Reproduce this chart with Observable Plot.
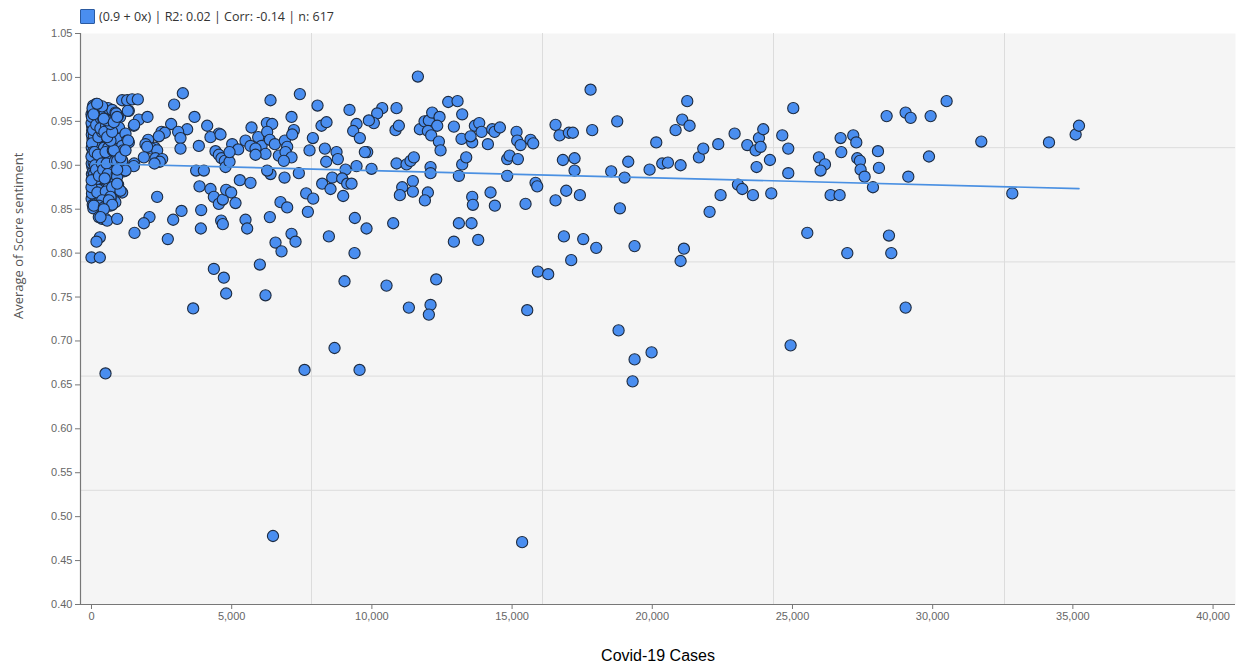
<!DOCTYPE html>
<html><head><meta charset="utf-8">
<script src="https://cdn.jsdelivr.net/npm/d3@7"></script>
<script src="https://cdn.jsdelivr.net/npm/@observablehq/plot@0.6"></script>
<style>
body{margin:0;background:#fff;}
#wrap{position:relative;width:1236px;height:670px;}
#legend{position:absolute;left:80px;top:8px;font:12.5px "Open Sans";color:#333;display:flex;align-items:center;z-index:2;}
#legend .sw{width:15px;height:15px;background:#4a8ef0;border:1px solid #2b5aa0;margin-right:4px;box-sizing:border-box;border-radius:1px;}
</style></head>
<body><div id="wrap"><div id="legend"><span class="sw"></span><span id="legtext"></span></div></div>
<script>
const legendLabel = "(0.9 + 0x) | R2: 0.02 | Corr: -0.14 | n: 617";
const xLabel = "Covid-19 Cases";
const yLabel = "Average of Score sentiment";
const xTicks = [0,5000,10000,15000,20000,25000,30000,35000,40000];
const yTicks = [0.40,0.45,0.50,0.55,0.60,0.65,0.70,0.75,0.80,0.85,0.90,0.95,1.00,1.05];
const xDomain = [-392, 40800];
const yDomain = [0.40, 1.05];

// dense cluster near zero cases
const clusterPoints = [
[0,0.958],[20,0.945],[35,0.93],[10,0.92],[50,0.905],[15,0.89],[40,0.875],[5,0.862],[60,0.968],[80,0.96],[25,0.94],[70,0.925],[90,0.912],[30,0.898],[55,0.885],[75,0.87],[45,0.855],[100,0.952],[120,0.966],[110,0.938],[130,0.928],[95,0.918],[140,0.907],[105,0.895],[150,0.882],[125,0.868],[160,0.858],[170,0.97],[180,0.955],[190,0.943],[165,0.933],[200,0.922],[175,0.91],[210,0.9],[185,0.888],[220,0.876],[195,0.865],[230,0.852],[240,0.962],[250,0.949],[235,0.936],[260,0.926],[245,0.915],[270,0.903],[255,0.892],[280,0.879],[265,0.866],[290,0.857],[300,0.958],[310,0.944],[295,0.931],[320,0.92],[305,0.909],[330,0.897],[315,0.884],[340,0.872],[325,0.861],[350,0.953],[360,0.94],[345,0.929],[370,0.917],[355,0.906],[380,0.894],[365,0.882],[390,0.869],[375,0.858],[400,0.947],[410,0.935],[395,0.924],[420,0.912],[405,0.9],[430,0.888],[415,0.877],[440,0.865],[12,0.935],[28,0.912],[42,0.948],[62,0.893],[85,0.934],[115,0.877],[135,0.944],[155,0.921],[205,0.937],[225,0.893],[275,0.944],[285,0.915],[335,0.938],[385,0.926],[8,0.902],[18,0.868],[32,0.884],[48,0.962],[66,0.851],[88,0.946],[102,0.875],[145,0.893],[188,0.925],[215,0.958],[262,0.905],[312,0.872],[358,0.915],[398,0.885],[3,0.948],[22,0.925],[52,0.915],[78,0.903],[118,0.957],[148,0.941],[178,0.884],[238,0.872],[288,0.932],[348,0.895],[0,0.875],[0,0.91],[15,0.955],[38,0.965],[58,0.94],[92,0.89],[128,0.9],[168,0.946],[208,0.869],[248,0.932],[298,0.898],[338,0.953],[378,0.938],[425,0.952],[445,0.92],[6,0.883],[72,0.958],[112,0.915],[162,0.895],[228,0.912],[268,0.888],[318,0.942],[368,0.902],[418,0.895],
[480,0.96],[520,0.945],[560,0.932],[600,0.92],[650,0.908],[700,0.895],[750,0.88],[800,0.868],[850,0.858],[500,0.915],[540,0.902],[580,0.89],[620,0.875],[680,0.862],[720,0.95],[780,0.938],[830,0.925],[880,0.912],[920,0.9],[470,0.885],[510,0.87],[560,0.855],[620,0.942],[690,0.928],[760,0.917],[840,0.905],[900,0.89],[950,0.878],[1000,0.93],[1050,0.918],[1100,0.905],[1150,0.893],[980,0.943],[1020,0.955],[460,0.938],[590,0.965],[660,0.952],[740,0.963],
[380,0.967],[202,0.970],[856,0.960],[1331,0.962],[939,0.956],[1510,0.945],[1213,0.936],[1272,0.928],[1331,0.926],[1094,0.922],[1130,0.917],[927,0.911],[796,0.917],[677,0.928],[559,0.932],[737,0.938],[677,0.947],[559,0.951],[440,0.953],[796,0.949],[975,0.894],[915,0.905],[1094,0.905],[1011,0.871],[856,0.881],[915,0.887],[737,0.875],[677,0.864],[559,0.860],[380,0.860],[261,0.854],[83,0.854],[440,0.852],[677,0.854],[261,0.841],[380,0.839],[499,0.839],[559,0.837],[915,0.839],[297,0.818],[178,0.813],[0,0.795],[297,0.795],[500,0.663],
[1308,0.928],[1522,0.902],[1510,0.899],[1213,0.894],[915,0.895],[1034,0.909],[1213,0.917],[1094,0.869],[1034,0.871],[915,0.879],[618,0.860],[737,0.855],[440,0.850],[321,0.841],
[1094,0.974],[1272,0.974],[1450,0.975],[1652,0.975],[1296,0.962],[880,0.959],[915,0.955],[1688,0.952],[1522,0.946],[1997,0.955]
];

// 2,000 – 8,500 cases
const leftPoints = [
[2841,0.947],[2948,0.969],[3258,0.982],[3674,0.955],[4126,0.945],[4542,0.936],[4244,0.932],[4601,0.935],[3412,0.941],[3091,0.938],[3174,0.931],[2497,0.938],[2616,0.937],[2402,0.933],[2021,0.929],[1926,0.924],[2259,0.920],[2140,0.919],[2342,0.917],[1985,0.921],[1867,0.909],[2283,0.908],[2521,0.907],[2437,0.904],[2247,0.902],[3174,0.919],[3828,0.922],[4423,0.916],[4542,0.912],[4637,0.908],[4756,0.905],[4780,0.898],[4923,0.904],[5018,0.924],[5232,0.918],[4923,0.915],[5493,0.928],[5707,0.943],[5671,0.922],[5945,0.932],[6064,0.922],[6254,0.948],[6444,0.947],[6385,0.974],[6266,0.938],[6361,0.929],[6540,0.924],[6206,0.913],[5850,0.919],[5850,0.912],[6682,0.911],[6896,0.928],[7134,0.955],[7217,0.940],[7158,0.935],[6979,0.921],[6920,0.915],[7134,0.909],[6860,0.905],[7395,0.891],[6884,0.886],[6385,0.890],[6266,0.894],[7431,0.981],[7895,0.931],[8061,0.968],[8204,0.945],[8382,0.949],[7776,0.917],[8323,0.919],[8371,0.904],[8228,0.879],[8525,0.873],[8585,0.886],[7657,0.868],[7907,0.862],[7717,0.847],[8466,0.819],
[3733,0.894],[4007,0.894],[3852,0.876],[4244,0.873],[4364,0.864],[4542,0.856],[4684,0.861],[4803,0.872],[4982,0.869],[5136,0.857],[5291,0.883],[5671,0.880],[3912,0.849],[4625,0.837],[4684,0.833],[5493,0.838],[5552,0.828],[3900,0.828],[2342,0.864],[3210,0.848],[2913,0.838],[2069,0.841],[1867,0.834],[1534,0.823],[2722,0.816],[6741,0.858],[6979,0.852],[6361,0.841],[6563,0.812],[6777,0.802],[7134,0.822],[7277,0.813],[6004,0.787],[4364,0.782],[4720,0.772],[4803,0.754],[6206,0.752],[3626,0.737]
];

// 8,500 – 19,500 cases
const centerPoints = [
[11640,1.001],[17799,0.986],[18750,0.950],[9202,0.963],[10368,0.965],[10879,0.965],[10189,0.959],[10070,0.948],[9892,0.951],[9452,0.947],[9333,0.939],[9571,0.931],[10843,0.940],[10962,0.945],[11711,0.941],[11878,0.950],[12032,0.951],[12151,0.960],[12413,0.955],[12330,0.945],[11997,0.939],[12116,0.934],[12389,0.927],[12449,0.917],[12722,0.972],[13055,0.973],[13221,0.958],[12924,0.944],[13197,0.930],[13578,0.926],[13519,0.933],[13673,0.945],[13828,0.948],[13911,0.938],[14137,0.924],[14291,0.941],[14375,0.938],[14565,0.943],[15159,0.938],[15183,0.928],[15302,0.923],[15659,0.929],[15754,0.925],[16550,0.946],[16693,0.934],[17026,0.937],[17168,0.937],[17858,0.940],
[8739,0.915],[8786,0.907],[9060,0.895],[9452,0.899],[9987,0.896],[9833,0.915],[9749,0.915],[10879,0.902],[11236,0.901],[11378,0.905],[11497,0.909],[12092,0.898],[12092,0.891],[13102,0.888],[13221,0.901],[13364,0.909],[14826,0.907],[14910,0.911],[15207,0.907],[14826,0.888],[15837,0.880],[15897,0.876],[16812,0.906],[17228,0.908],[17228,0.894],[18536,0.893],[19143,0.904],[19012,0.886],
[8976,0.865],[8941,0.885],[9119,0.879],[9274,0.879],[11081,0.875],[10998,0.866],[11461,0.882],[11461,0.870],[11997,0.869],[11890,0.860],[13578,0.864],[13602,0.855],[14232,0.869],[14386,0.854],[15480,0.856],[16550,0.860],[16931,0.871],[17418,0.866],[18845,0.851],[9392,0.840],[9809,0.828],[10760,0.834],[13102,0.834],[13554,0.834],[12924,0.813],[13792,0.815],[9381,0.800],[16848,0.819],[17537,0.816],[18001,0.806],[17109,0.792],[19368,0.808],[15920,0.779],[16288,0.776],[9024,0.768],[10522,0.763],[12294,0.770],[11319,0.738],[12092,0.741],[12032,0.730],[15540,0.735]
];

// 19,500 cases and beyond
const rightPoints = [
[21247,0.973],[21069,0.952],[21330,0.945],[20831,0.940],[20142,0.926],[19904,0.895],[20356,0.902],[20558,0.903],[21010,0.900],[21663,0.909],[21818,0.919],[22353,0.924],[22936,0.936],[23388,0.923],[23685,0.917],[23804,0.931],[23958,0.941],[23863,0.921],[23720,0.898],[24196,0.906],[24636,0.934],[24850,0.919],[24850,0.891],[25028,0.965],[23055,0.878],[23209,0.873],[23590,0.866],[24244,0.868],[22436,0.866],[22044,0.847],[26717,0.931],[27168,0.934],[27276,0.926],[26740,0.915],[25944,0.909],[26158,0.901],[26003,0.894],[27311,0.908],[27406,0.905],[27430,0.895],[27573,0.887],[28049,0.916],[28084,0.897],[27870,0.875],[26360,0.866],[26681,0.866],[28358,0.956],[29035,0.960],[29214,0.954],[29927,0.956],[30497,0.973],[29868,0.910],[29131,0.887],[31734,0.927],[32840,0.868],[34148,0.926],[35099,0.935],[35218,0.945],[25528,0.823],[28441,0.820],[28524,0.800],[26955,0.800],[21128,0.805],[21010,0.791],[29035,0.738]
];

// low outliers
const lowPoints = [
[6473,0.478],[15358,0.471],[7598,0.667],[8668,0.692],[9560,0.667],[18798,0.712],[19369,0.679],[19298,0.654],[19975,0.687],[24933,0.695]
];

const points = [...clusterPoints, ...leftPoints, ...centerPoints, ...rightPoints, ...lowPoints]
  .map(([cases, sentiment]) => ({cases, sentiment}));

const xGrid = [1,2,3,4].map(k => xDomain[0] + k * (xDomain[1] - xDomain[0]) / 5);
const yGrid = [1,2,3,4].map(k => yDomain[0] + k * (yDomain[1] - yDomain[0]) / 5);

document.getElementById("legtext").textContent = legendLabel;

const fmtComma = d3.format(",.0f");
const fmtY = d3.format(".2f");

const chart = Plot.plot({
  width: 1236, height: 670,
  marginLeft: 80, marginRight: 1, marginTop: 33, marginBottom: 66,
  x: {domain: xDomain},
  y: {domain: yDomain},
  style: {fontFamily: "'Liberation Sans', Arial, sans-serif", fontSize: "11px", color: "#666", background: "transparent", overflow: "visible"},
  marks: [
    Plot.frame({fill: "#f5f5f5", stroke: null}),
    Plot.ruleX(xGrid, {stroke: "#dcdcdc", strokeWidth: 1}),
    Plot.ruleY(yGrid, {stroke: "#dcdcdc", strokeWidth: 1}),
    Plot.axisX({ticks: xTicks, tickFormat: d => fmtComma(d), tickSize: 5, tickPadding: 3, label: null, stroke: "#777", fill: "#666"}),
    Plot.axisY({ticks: yTicks, tickFormat: d => fmtY(d), tickSize: 5, tickPadding: 3, label: null, stroke: "#777", fill: "#666"}),
    Plot.ruleY([yDomain[0]], {stroke: "#777", strokeWidth: 1.2}),
    Plot.ruleX([xDomain[0]], {stroke: "#777", strokeWidth: 1.2}),
    Plot.dot(points, {x: "cases", y: "sentiment", r: 5.6, fill: "#4a8ef0", stroke: "#1d2b40", strokeWidth: 1.1}),
    Plot.linearRegressionY(points, {x: "cases", y: "sentiment", stroke: "#4a90e2", strokeWidth: 1.6, ci: 0}),
    Plot.text([xLabel], {frameAnchor: "bottom", dy: 56, text: d => d, fill: "#000", fontSize: 16, fontFamily: "'Liberation Sans', Arial"}),
    Plot.text([yLabel], {frameAnchor: "left", dx: -62, rotate: -90, text: d => d, fill: "#555", fontSize: 13, fontFamily: "'Open Sans'"})
  ]
});
document.getElementById("wrap").appendChild(chart);
</script>
</body></html>
